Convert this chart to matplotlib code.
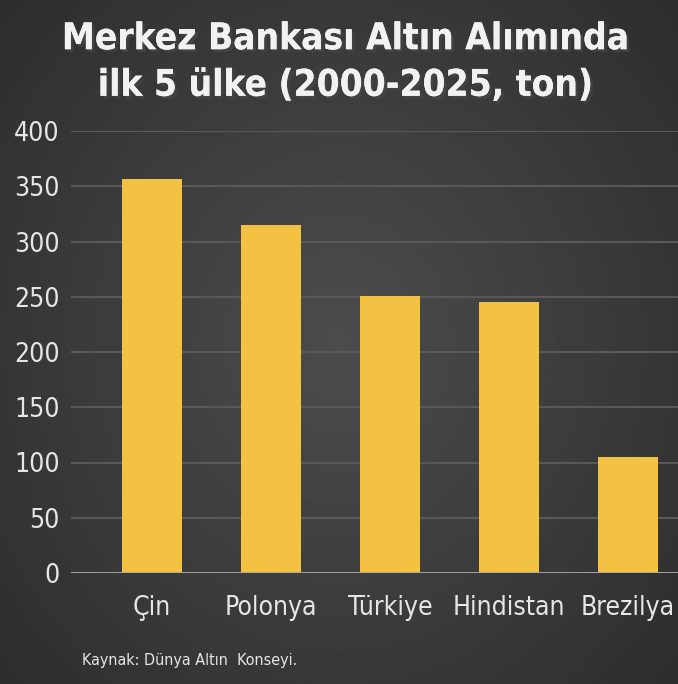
import matplotlib.pyplot as plt
import numpy as np
import matplotlib.patheffects as pe

countries = ["Çin", "Polonya", "Türkiye", "Hindistan", "Brezilya"]
tons = [357, 315, 251, 245, 105]
yticks = [0, 50, 100, 150, 200, 250, 300, 350, 400]

title = "Merkez Bankası Altın Alımında\nilk 5 ülke (2000-2025, ton)"
source = "Kaynak: Dünya Altın  Konseyi."

fig = plt.figure(figsize=(6.78, 6.84), dpi=100)

# dark radial-ish background
bg = fig.add_axes([0, 0, 1, 1])
yy, xx = np.mgrid[-1:1:300j, -1:1:300j]
r = np.sqrt(xx**2 + (yy * 0.9) ** 2)
bg.imshow(0.30 - 0.09 * r, cmap="gray", vmin=0, vmax=1, extent=[0, 1, 0, 1],
          aspect="auto")
bg.axis("off")

ax = fig.add_axes([71 / 678, 1 - 573 / 684, 1 - 71 / 678, 442 / 684])
ax.patch.set_alpha(0)
x = np.arange(len(countries))
ax.bar(x, tons, width=0.5, color="#F4C242", zorder=3)
ax.set_ylim(0, 400)
ax.set_xlim(-0.68, 4.42)
ax.set_yticks(yticks)
ax.yaxis.grid(True, color="#595959", linewidth=1.5, zorder=0)
ax.axhline(0, color="#a8a8a8", linewidth=2, zorder=4)
for s in ax.spines.values():
    s.set_visible(False)
ax.tick_params(length=0)
ax.set_xticks(x)
ax.set_xticklabels(countries, family="DejaVu Sans", stretch="condensed",
                   fontsize=19, color="#e6e6e6")
ax.tick_params(axis="x", pad=16)
ax.tick_params(axis="y", pad=8)
for t in ax.get_yticklabels():
    t.set_family("DejaVu Sans")
    t.set_stretch("condensed")
    t.set_fontsize(19)
    t.set_color("#e6e6e6")

fig.text(345 / 678, 1 - 62 / 684, title, ha="center", va="center",
         family="DejaVu Sans", stretch="condensed", fontweight="bold",
         fontsize=26.5, color="#f2f2f2", linespacing=1.33,
         path_effects=[pe.withSimplePatchShadow(offset=(2, -2), alpha=0.6),
                       pe.Normal()])
fig.text(82 / 678, 1 - 660 / 684, source, ha="left", va="center",
         family="DejaVu Sans", stretch="condensed", fontsize=11.5,
         color="#e6e6e6")

fig.savefig("out.png", dpi=100)
